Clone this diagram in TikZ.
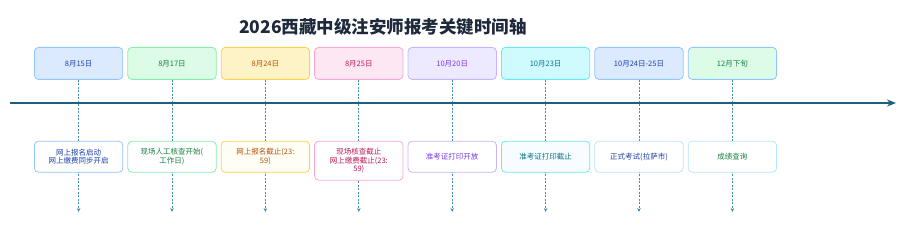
\documentclass[tikz,border=0pt]{standalone}
\usepackage{fontspec}
\setmainfont{Noto Sans CJK SC}
\usetikzlibrary{arrows.meta, positioning}

\definecolor{ttlc}{HTML}{1E293B}
\definecolor{axisc}{HTML}{1F5F7E}
\definecolor{tickc}{HTML}{3F8CAA}
\definecolor{bluef}{HTML}{DBEAFE}\definecolor{blued}{HTML}{93C5FD}\definecolor{bluet}{HTML}{1E40AF}
\definecolor{greenf}{HTML}{DCFCE7}\definecolor{greend}{HTML}{86EFAC}\definecolor{greent}{HTML}{15803D}
\definecolor{yelf}{HTML}{FEF3C7}\definecolor{yeld}{HTML}{FCD34D}\definecolor{yelt}{HTML}{B45309}
\definecolor{pinkf}{HTML}{FCE7F3}\definecolor{pinkd}{HTML}{F9A8D4}\definecolor{pinkt}{HTML}{BE185D}
\definecolor{purf}{HTML}{EDE9FE}\definecolor{purd}{HTML}{C4B5FD}\definecolor{purt}{HTML}{7C3AED}
\definecolor{cyanf}{HTML}{CFFAFE}\definecolor{cyand}{HTML}{67E8F9}\definecolor{cyant}{HTML}{0E7490}
\definecolor{skyd}{HTML}{BAE6FD}

\begin{document}
\begin{tikzpicture}[x=1pt, y=-1pt,
        date/.style={rectangle, rounded corners=4pt, line width=0.8pt, minimum width=88.4pt,
                     minimum height=32pt, inner sep=2pt, align=center,
                     font=\fontsize{7.5}{9}\selectfont},
        event/.style={rectangle, rounded corners=4pt, line width=0.8pt, minimum width=88.4pt,
                      minimum height=31pt, inner sep=2pt, align=center, fill=white,
                      font=\fontsize{7.5}{8.5}\selectfont},
        ttl/.style={font=\bfseries\fontsize{17.5}{20}\selectfont, text=ttlc},
        axis/.style={-{Stealth[length=9pt,width=7pt]}, line width=1.6pt, axisc},
        tick/.style={-{Stealth[length=4pt,width=3.5pt]}, dash pattern=on 2pt off 1.5pt,
                     line width=0.7pt, tickc},
        node distance=4.2pt]
      \useasboundingbox (0,0) rectangle (900,232);
      \node[ttl] (title) at (383,27) {2026西藏中级注安师报考关键时间轴};
      % dates on top
      \node[date, fill=bluef, draw=blued, text=bluet, anchor=north west] (t1) at (34,47) {8月15日};
      \node[date, fill=greenf, draw=greend, text=greent, right=of t1] (t2) {8月17日};
      \node[date, fill=yelf, draw=yeld, text=yelt, right=of t2] (t3) {8月24日};
      \node[date, fill=pinkf, draw=pinkd, text=pinkt, right=of t3] (t4) {8月25日};
      \node[date, fill=purf, draw=purd, text=purt, right=of t4] (t5) {10月20日};
      \node[date, fill=cyanf, draw=cyand, text=cyant, right=of t5] (t6) {10月23日};
      \node[date, fill=bluef, draw=blued, text=bluet, right=of t6] (t7) {10月24日-25日};
      \node[date, fill=greenf, draw=blued, text=greent, right=of t7] (t8) {12月下旬};
      % dashed drop lines
      \coordinate (bot) at (0,212);
      \foreach \i in {1,...,8}
        \draw[tick] (t\i.south) -- (t\i.south |- bot);
      % time axis
      \coordinate (a0) at (10,103);
      \coordinate (a1) at (896,103);
      \draw[axis] (a0) -- (a1);
      % events below
      \node[event, draw=blued, text=bluet, below=61pt of t1] (b1) {网上报名启动\\网上缴费同步开启};
      \node[event, draw=greend, text=greent, below=61pt of t2] (b2) {现场人工核查开始(\\工作日)};
      \node[event, draw=yeld, fill=yellow!4, text=yelt, below=61pt of t3] (b3) {网上报名截止(23:\\59)};
      \node[event, draw=pinkd, text=pinkt, minimum height=39pt, below=61pt of t4] (b4) {现场核查截止\\网上缴费截止(23:\\59)};
      \node[event, draw=purd, text=purt, below=61pt of t5] (b5) {准考证打印开放};
      \node[event, draw=cyand, fill=cyan!3, text=cyant, below=61pt of t6] (b6) {准考证打印截止};
      \node[event, draw=skyd, text=bluet, below=61pt of t7] (b7) {正式考试(拉萨市)};
      \node[event, draw=skyd, text=greent, below=61pt of t8] (b8) {成绩查询};
    \end{tikzpicture}
\end{document}
